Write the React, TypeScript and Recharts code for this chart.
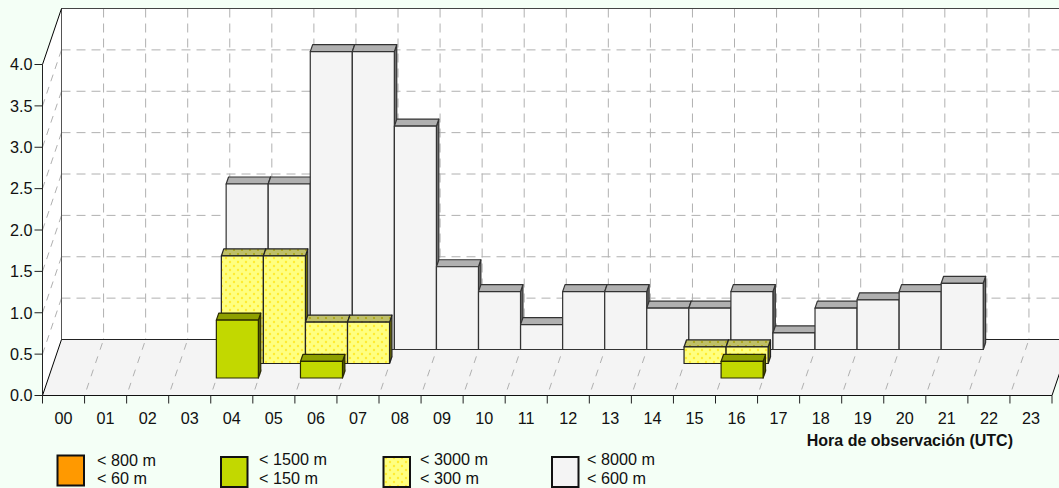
import React from "react";
import { ComposedChart, Bar, XAxis, YAxis } from "recharts";

const hours = ["00","01","02","03","04","05","06","07","08","09","10","11","12","13","14","15","16","17","18","19","20","21","22","23"];
const below600 = [null,null,null,null,2.0,2.0,3.6,3.6,2.7,1.0,0.7,0.3,0.7,0.7,0.5,0.5,0.7,0.2,0.5,0.6,0.7,0.8,null,null];
const below300 = [null,null,null,null,1.3,1.3,0.5,0.5,null,null,null,null,null,null,null,0.2,0.2,null,null,null,null,null,null,null];
const below150 = [null,null,null,null,0.7,null,0.2,null,null,null,null,null,null,null,null,null,0.2,null,null,null,null,null,null,null];
const below60 = hours.map(() => null as number | null);
const yTicks = [0,0.5,1,1.5,2,2.5,3,3.5,4];
const legendTop = ["< 800 m","< 1500 m","< 3000 m","< 8000 m"];
const legendBottom = ["< 60 m","< 150 m","< 300 m","< 600 m"];
const chartData = hours.map((hour,i)=>({hour,white:below600[i],yellow:below300[i],green:below150[i],orange:below60[i]}));

const W=1059,H=488,L=42.5,R=1052,T=64.5,B=395.5;
const DX=19,DY=56;
const FONT='"Liberation Sans", Arial, sans-serif';
const FS=16.2;
const step=(R-L)/24;
const yOf=(v:number)=>B-(v/4)*(B-T);

const styles:any={
  orange:{front:"#ff9900",top:"#b06c00",side:"#6e4400",stroke:"#222"},
  green:{front:"#c2d800",top:"#8fa000",side:"#525c00",stroke:"#2a2a00"},
  yellow:{front:"url(#dots)",top:"url(#dotsDark)",side:"#6f6f00",stroke:"#222"},
  white:{front:"#f4f4f4",top:"#b0b0b0",side:"#707070",stroke:"#333"},
};

const box=(key:string,ox:number,oy:number)=>(p:any)=>{
  const {x,y,width,height}=p;
  if(!height||height<=0) return <g/>;
  const s=styles[key];
  const x0=x+ox,x1=x+width+ox,yt=y-oy,yb=y+height-oy;
  const dx=2.4,dy=7;
  return <g stroke={s.stroke} strokeWidth={1.2} strokeLinejoin="round">
    <path d={`M${x1} ${yt}L${x1+dx} ${yt-dy}L${x1+dx} ${yb-dy}L${x1} ${yb}Z`} fill={s.side}/>
    <path d={`M${x0} ${yt}L${x0+dx} ${yt-dy}L${x1+dx} ${yt-dy}L${x1} ${yt}Z`} fill={s.top}/>
    <rect x={x0} y={yt} width={width} height={height} fill={s.front}/>
  </g>;
};

const Room=()=>{
  const gridDash="9 6";
  const grey="#b0b0b0";
  const inner=yTicks.slice(1,-1);
  return <g>
    <path d={`M${L+DX} ${T-DY}H${W+20}V${B-DY}H${L+DX}Z`} fill="#fff"/>
    <path d={`M${L} ${T}L${L+DX} ${T-DY}V${B-DY}L${L} ${B}Z`} fill="#fff"/>
    <path d={`M${L} ${B}L${L+DX} ${B-DY}L${R+DX} ${B-DY}L${R} ${B}Z`} fill="#f4f4f4"/>
    {inner.map(v=><line key={"h"+v} x1={L+DX} x2={W+20} y1={yOf(v)-DY} y2={yOf(v)-DY} stroke={grey} strokeDasharray={gridDash}/>)}
    {inner.map(v=><line key={"l"+v} x1={L} x2={L+DX} y1={yOf(v)} y2={yOf(v)-DY} stroke={grey} strokeDasharray="7 6"/>)}
    {hours.slice(1).map((h,i)=>{const fx=L+(i+1)*step;return <g key={h} stroke={grey}>
      <line x1={fx+DX} x2={fx+DX} y1={T-DY} y2={B-DY} strokeDasharray={gridDash}/>
      <line x1={fx+2} x2={fx+DX} y1={B-6} y2={B-DY} strokeDasharray="7 7"/>
    </g>;})}
    <line x1={L+DX} x2={W+20} y1={T-DY} y2={T-DY} stroke="#444"/>
    <line x1={L+DX} x2={W+20} y1={B-DY} y2={B-DY} stroke="#222" strokeWidth={1.2}/>
    <line x1={L+DX} x2={L+DX} y1={T-DY} y2={B-DY} stroke="#555"/>
    <path d={`M${L} ${T}L${L+DX} ${T-DY}`} stroke="#000" fill="none"/>
    <path d={`M${L} ${B}L${L+DX} ${B-DY}`} stroke="#000" fill="none"/>
    <path d={`M${R} ${B}L${R+DX} ${B-DY}`} stroke="#000" fill="none"/>
    <line x1={L} x2={R} y1={B} y2={B} stroke="#111"/>
    <text x={1013} y={446} textAnchor="end" fontFamily={FONT} fontWeight="bold" fontSize={16} fill="#111">Hora de observación (UTC)</text>
  </g>;
};

const LegendRows=()=>{
  const keys=["orange","green","yellow","white"];
  const boxX=[57.5,221,383.5,552];
  const txtX=[97,259,420,587];
  const boxY=[455.5,457,457,457];
  return <g fontFamily={FONT} fontSize={FS} fill="#111">
    {keys.map((k,i)=><g key={k}>
      <rect x={boxX[i]} y={boxY[i]} width={26.5} height={30} fill={styles[k].front} stroke="#111" strokeWidth={2}/>
      <text x={txtX[i]} y={i===0?466:465}>{legendTop[i]}</text>
      <text x={txtX[i]} y={484}>{legendBottom[i]}</text>
    </g>)}
  </g>;
};

const XTick=(p:any)=>{
  const {x,payload,index}=p;
  const left=x-step/2,right=x+step/2;
  return <g>
    <line x1={left} x2={left} y1={B} y2={B+8} stroke="#222"/>
    {index===23&&<line x1={right} x2={right} y1={B} y2={B+8} stroke="#222"/>}
    <text x={x} y={B+28.5} textAnchor="middle" fontFamily={FONT} fontSize={FS} fill="#111">{payload.value}</text>
  </g>;
};

export default function App(){
  return <div style={{position:"absolute",left:0,top:0,width:W,height:H,background:"#f4fff6",overflow:"hidden"}}>
    <ComposedChart width={W} height={H} data={chartData} barCategoryGap={0} barGap={0}
      margin={{top:T,right:W-R,bottom:0,left:0}}>
      <defs>
        <pattern id="dots" width="8" height="8" patternUnits="userSpaceOnUse">
          <rect width="8" height="8" fill="#ffff80"/>
          <circle cx="2" cy="2" r="1.2" fill="#ffec30"/>
          <circle cx="6" cy="6" r="1.2" fill="#ffec30"/>
        </pattern>
        <pattern id="dotsDark" width="8" height="8" patternUnits="userSpaceOnUse">
          <rect width="8" height="8" fill="#bfbf68"/>
          <circle cx="2" cy="2" r="1.1" fill="#aaa410"/>
          <circle cx="6" cy="6" r="1.1" fill="#aaa410"/>
        </pattern>
      </defs>
      <Room/>
      <XAxis xAxisId="orange" dataKey="hour" type="category" interval={0} height={H-B} axisLine={false} tickLine={false} tick={<XTick/>}/>
      <XAxis xAxisId="green" dataKey="hour" hide/>
      <XAxis xAxisId="yellow" dataKey="hour" hide/>
      <XAxis xAxisId="white" dataKey="hour" hide/>
      <YAxis domain={[0,4]} ticks={yTicks} width={L} interval={0} axisLine={{stroke:"#222"}} tickLine={{stroke:"#222"}} tickSize={8} tickMargin={2}
        tickFormatter={(v:number)=>v.toFixed(1)} tick={{fontFamily:FONT,fontSize:FS,fill:"#111"}}/>
      <Bar xAxisId="white" dataKey="white" name="< 600 m" isAnimationActive={false} shape={box("white",15.4,46)}/>
      <Bar xAxisId="yellow" dataKey="yellow" name="< 300 m" isAnimationActive={false} shape={box("yellow",10.6,32)}/>
      <Bar xAxisId="green" dataKey="green" name="< 150 m" isAnimationActive={false} shape={box("green",5.6,17.5)}/>
      <Bar xAxisId="orange" dataKey="orange" name="< 60 m" isAnimationActive={false} shape={box("orange",1,3)}/>
      <LegendRows/>
    </ComposedChart>
  </div>;
}
